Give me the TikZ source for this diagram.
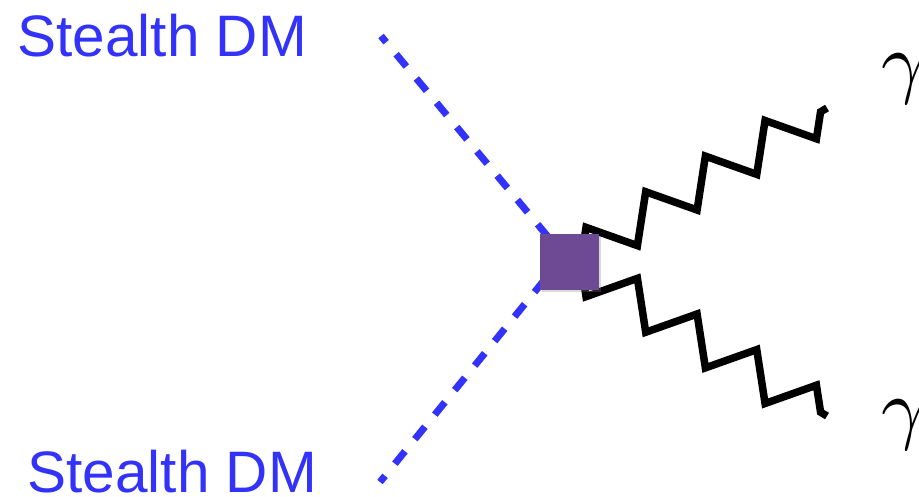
\documentclass[tikz,border=0pt]{standalone}
\usepackage{fontspec}
\setmainfont{Liberation Sans}
\usepackage{tikz}
\usetikzlibrary{decorations.pathmorphing,shadows}

\definecolor{dmblue}{RGB}{50,50,250}
\definecolor{vertexpurple}{RGB}{110,74,148}

\tikzset{
  dmline/.style={dmblue, line width=7pt, dash pattern=on 16pt off 15.6pt},
  photon/.style={line width=7.5pt, miter limit=10, decorate,
    decoration={zigzag, segment length=69.5pt, amplitude=#1, pre length=15pt}},
  dmlabel/.style={dmblue, anchor=base west, inner sep=0pt,
    font=\fontsize{58.5}{70}\selectfont},
  gammalabel/.style={anchor=base west, inner sep=0pt, scale=8},
  vertexbox/.style={fill=vertexpurple, minimum width=59pt, minimum height=56pt,
    inner sep=0pt, drop shadow={opacity=0.3, shadow xshift=2pt, shadow yshift=-2.5pt}}
}

\begin{document}
\begin{tikzpicture}[x=1pt, y=-1pt]

  \useasboundingbox (0,0) rectangle (919,497);

  % vertex and outer ends
  \coordinate (v) at (569,262);
  \coordinate (dmA) at (381,36);
  \coordinate (dmB) at (380,482);
  \coordinate (phA) at (827,108);
  \coordinate (phB) at (827,416);

  % incoming dark matter lines
  \draw[dmline, dash phase=30.1pt] (v) -- (dmA);
  \draw[dmline, dash phase=8.8pt] ([xshift=-10pt]v) -- (dmB);

  % outgoing photons
  \draw[photon=21pt] (v) -- (phA);
  \draw[photon=-21pt] (v) -- (phB);

  % the effective vertex
  \node[vertexbox] (vtx) at (v) {};

  % labels
  \node[dmlabel] (dmAlabel) at (17.3,57) {Stealth DM};
  \node[dmlabel] (dmBlabel) at (27.3,492) {Stealth DM};
  \node[gammalabel] (phAlabel) at (880,89) {$\gamma$};
  \node[gammalabel] (phBlabel) at (880,434) {$\gamma$};

\end{tikzpicture}
\end{document}
